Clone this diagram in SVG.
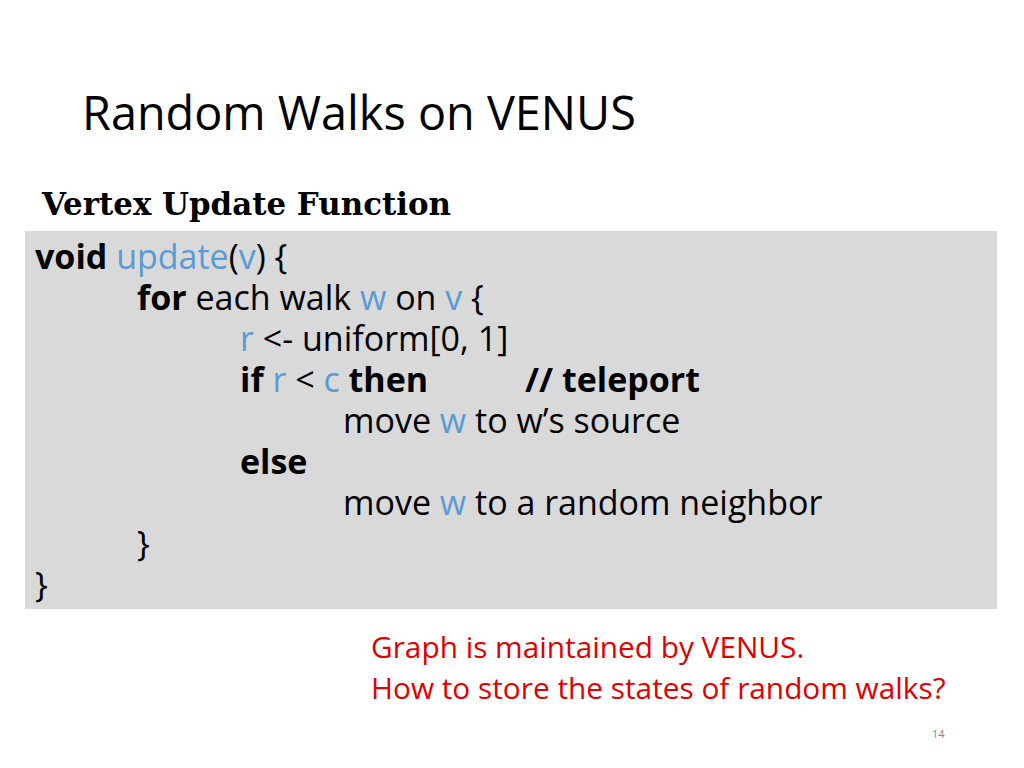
<svg xmlns="http://www.w3.org/2000/svg" width="1024" height="768" viewBox="0 0 1024 768">
<style>
text{font-family:"Open Sans","Noto Sans",sans-serif}
.c{font-size:34px;fill:#000}
.b{font-weight:bold}
.v{fill:#5b9bd5}
.r{font-size:29.8px;fill:#e00000}
</style>
<rect width="1024" height="768" fill="#fff"/>
<text x="82" y="130" font-size="46.8">Random Walks on VENUS</text>
<text x="42" y="215" style="font-family:'DejaVu Serif','Liberation Serif',serif;font-size:31px;font-weight:bold" textLength="409" lengthAdjust="spacingAndGlyphs">Vertex Update Function</text>
<rect x="25" y="231" width="972" height="378" fill="#d9d9d9"/>
<text class="c" x="35" y="269"><tspan class="b">void</tspan> <tspan class="v">update</tspan>(<tspan class="v">v</tspan>) {</text>
<text class="c" x="137" y="310"><tspan class="b">for</tspan> each walk <tspan class="v">w</tspan> on <tspan class="v">v</tspan> {</text>
<text class="c" x="240" y="351"><tspan class="v">r</tspan> &lt;- uniform[0, 1]</text>
<text class="c" x="240" y="392"><tspan class="b">if</tspan> <tspan class="v">r</tspan> &lt; <tspan class="v">c</tspan> <tspan class="b">then</tspan></text>
<text class="c b" x="525" y="392">// teleport</text>
<text class="c" x="343" y="433">move <tspan class="v">w</tspan> to w’s source</text>
<text class="c b" x="240" y="474">else</text>
<text class="c" x="343" y="515">move <tspan class="v">w</tspan> to a random neighbor</text>
<text class="c" x="137" y="556">}</text>
<text class="c" x="35" y="597">}</text>
<text class="r" x="371" y="658">Graph is maintained by VENUS.</text>
<text class="r" x="371" y="699">How to store the states of random walks?</text>
<text x="932" y="738" font-size="11" fill="#888">14</text>
</svg>
